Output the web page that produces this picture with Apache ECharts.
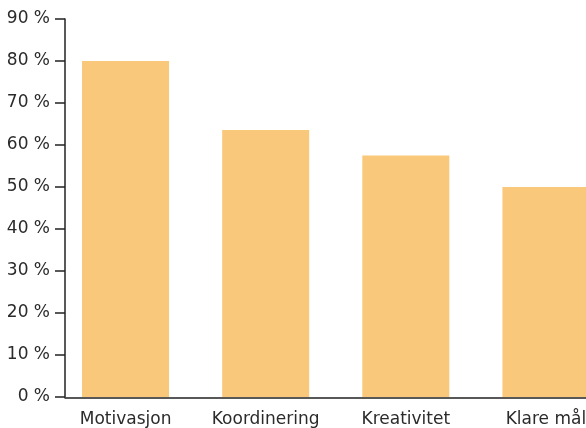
<!DOCTYPE html>
<html>
<head>
<meta charset="utf-8">
<script src="https://cdn.jsdelivr.net/npm/echarts@6/dist/echarts.min.js"></script>
<style>html,body{margin:0;padding:0;background:#fff;overflow:hidden;width:586px;height:428px}#c{width:616px;height:428px}</style>
</head>
<body>
<div id="c"></div>
<script>
const categories = ['Motivasjon', 'Koordinering', 'Kreativitet', 'Klare mål'];
const values = [80, 63.6, 57.5, 50];
const yTicks = [0, 10, 20, 30, 40, 50, 60, 70, 80, 90];

const font = 'DejaVu Sans';
const chart = echarts.init(document.getElementById('c'));
chart.setOption({
  animation: false,
  grid: [
    { left: 55.5, top: 19, bottom: 30, right: 0 },
    { left: 65, top: 19, bottom: 30, right: 30 }
  ],
  xAxis: [
    {
      type: 'category', gridIndex: 0, data: categories,
      axisLine: { show: false }, axisTick: { show: false },
      axisLabel: { color: '#2b2b2b', fontFamily: font, fontSize: 17, margin: 14, interval: 0 }
    },
    {
      type: 'value', gridIndex: 1, min: 0, max: 1,
      axisLine: { show: true, lineStyle: { color: '#222', width: 1.5 } },
      axisTick: { show: false }, axisLabel: { show: false }, splitLine: { show: false }
    }
  ],
  yAxis: [
    {
      type: 'value', gridIndex: 0, min: yTicks[0], max: yTicks[yTicks.length - 1], interval: 10,
      offset: -9.5,
      axisLine: { show: true, lineStyle: { color: '#222', width: 1.5 } },
      axisTick: { show: true, length: 10, lineStyle: { color: '#222', width: 1.5 } },
      axisLabel: { color: '#2b2b2b', fontFamily: font, fontSize: 17, margin: 15, formatter: v => v + ' %' },
      splitLine: { show: false }
    },
    { type: 'value', gridIndex: 1, show: false, min: 0, max: 1 }
  ],
  series: [{
    type: 'bar', xAxisIndex: 0, yAxisIndex: 0,
    data: values, barWidth: 87,
    itemStyle: { color: '#F9C87A' }
  }]
});
</script>
</body>
</html>
